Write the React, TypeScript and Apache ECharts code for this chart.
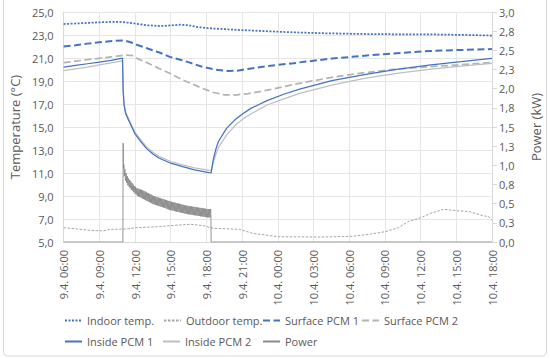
import React, { useEffect, useRef } from "react";
import * as echarts from "echarts";

// x axis: hours since 9.4. 06:00
const xTickLabels = [
  "9.4. 06:00", "9.4. 09:00", "9.4. 12:00", "9.4. 15:00", "9.4. 18:00", "9.4. 21:00",
  "10.4. 00:00", "10.4. 03:00", "10.4. 06:00", "10.4. 09:00", "10.4. 12:00", "10.4. 15:00", "10.4. 18:00",
];
const rightTickLabels = ["0,0", "0,3", "0,5", "0,8", "1,0", "1,3", "1,5", "1,8", "2,0", "2,3", "2,5", "2,8", "3,0"];

const indoorTemp = [
  [0, 23.95], [1, 24.0], [2, 24.05], [3, 24.1], [4.3, 24.15], [5, 24.12], [6, 24.0], [7, 23.85],
  [8.1, 23.78], [9, 23.83], [9.8, 23.9], [10.5, 23.85], [11.3, 23.68], [12.5, 23.57], [14.5, 23.45],
  [17, 23.33], [19.3, 23.23], [22, 23.15], [25, 23.09], [28, 23.06], [31, 23.05], [34, 23.0], [36, 22.95],
];
const outdoorTemp = [
  [0, 6.24], [1.16, 6.13], [2.2, 6.02], [3.33, 5.96], [3.88, 6.1], [5.25, 6.13], [6.06, 6.24], [7.97, 6.33],
  [9.33, 6.45], [10.69, 6.54], [11.78, 6.42], [12.6, 6.19], [14.78, 6.1], [15.87, 5.76], [18.05, 5.46],
  [21.59, 5.43], [24.31, 5.5], [25.68, 5.67], [27.03, 5.9], [28.13, 6.24], [28.95, 6.77], [30.03, 7.11],
  [30.85, 7.5], [31.94, 7.84], [33.03, 7.72], [34.12, 7.64], [35.21, 7.29], [35.75, 7.2], [36, 6.9],
];
const surfacePcm1 = [
  [0, 22.0], [1, 22.1], [2, 22.25], [3.47, 22.42], [4.3, 22.5], [5.1, 22.52], [5.7, 22.35], [6.2, 22.13],
  [7, 21.85], [8.1, 21.46], [8.92, 21.1], [9.8, 20.85], [10.6, 20.6], [11.65, 20.24], [12.7, 20.0],
  [13.8, 19.87], [14.6, 19.9], [15.5, 20.05], [17.1, 20.3], [19.3, 20.54], [19.83, 20.62], [22.54, 20.95],
  [25.27, 21.2], [28, 21.41], [30.7, 21.6], [33.4, 21.7], [36, 21.78],
];
const surfacePcm2 = [
  [0, 20.6], [2, 20.85], [4, 21.1], [5.3, 21.26], [5.8, 21.2], [6.2, 20.95], [7, 20.6], [8.0, 20.1],
  [8.92, 19.67], [10, 19.1], [11.65, 18.37], [12.6, 18.0], [13.5, 17.8], [14.4, 17.78], [15.5, 17.9],
  [17.1, 18.2], [19.83, 18.8], [22.54, 19.32], [25.27, 19.72], [28, 20.04], [30.7, 20.24], [33.4, 20.42], [36, 20.6],
];
const insidePcm1 = [
  [0, 20.2], [1, 20.35], [2, 20.5], [3, 20.65], [4, 20.8], [4.95, 20.98], [5.0, 18.2], [5.08, 16.9],
  [5.2, 16.2], [5.5, 15.5], [6.0, 14.4], [6.5, 13.7], [7.0, 13.1], [7.5, 12.65], [8.0, 12.3], [9.0, 11.85],
  [10.0, 11.55], [11.0, 11.28], [12.0, 11.08], [12.4, 11.0], [12.5, 11.7], [12.6, 12.28], [12.8, 13.1],
  [13.0, 13.72], [13.69, 14.88], [14.37, 15.6], [15.0, 16.1], [15.73, 16.62], [17.1, 17.29], [18.5, 17.85],
  [19.83, 18.3], [22.54, 19.03], [25.27, 19.55], [28, 20.01], [30.7, 20.39], [33.4, 20.68], [36, 20.97],
];
const insidePcm2 = [
  [0, 19.9], [1, 20.05], [2, 20.2], [3, 20.4], [4, 20.57], [4.95, 20.75], [5.0, 18.3], [5.08, 17.0],
  [5.2, 16.35], [5.5, 15.65], [6.0, 14.55], [6.5, 13.85], [7.0, 13.25], [7.5, 12.8], [8.0, 12.45], [9.0, 12.0],
  [10.0, 11.7], [11.0, 11.45], [12.0, 11.27], [12.4, 11.2], [12.5, 11.6], [12.6, 12.0], [12.8, 12.65],
  [13.0, 13.2], [13.69, 14.3], [14.37, 15.1], [15.0, 15.65], [15.73, 16.13], [17.1, 16.91], [18.5, 17.45],
  [19.83, 17.93], [22.54, 18.65], [25.27, 19.23], [28, 19.67], [30.7, 20.01], [33.4, 20.3], [36, 20.54],
];
const power = [
  [0, 0], [4.98, 0], [5.0, 1.29], [5.03, 0.96], [5.07, 1.01], [5.1, 0.86], [5.15, 0.95], [5.2, 0.8],
  [5.25, 0.9], [5.3, 0.77], [5.35, 0.86], [5.4, 0.74], [5.45, 0.83], [5.5, 0.72], [5.55, 0.81], [5.6, 0.7],
  [5.65, 0.79], [5.7, 0.68], [5.75, 0.77], [5.8, 0.67], [5.85, 0.75], [5.9, 0.65], [5.95, 0.73], [6.0, 0.63],
  [6.05, 0.72], [6.1, 0.62], [6.15, 0.7], [6.2, 0.6], [6.25, 0.7], [6.3, 0.595], [6.35, 0.69], [6.4, 0.585],
  [6.45, 0.685], [6.5, 0.58], [6.55, 0.68], [6.6, 0.57], [6.65, 0.675], [6.7, 0.56], [6.75, 0.665], [6.8, 0.555],
  [6.85, 0.66], [6.9, 0.545], [6.95, 0.65], [7.0, 0.535], [7.05, 0.64], [7.1, 0.53], [7.15, 0.635], [7.2, 0.52],
  [7.25, 0.625], [7.3, 0.515], [7.35, 0.62], [7.4, 0.505], [7.45, 0.61], [7.5, 0.495], [7.55, 0.6], [7.6, 0.49],
  [7.65, 0.595], [7.7, 0.485], [7.75, 0.59], [7.8, 0.48], [7.85, 0.585], [7.9, 0.475], [7.95, 0.58], [8.0, 0.47],
  [8.05, 0.575], [8.1, 0.465], [8.15, 0.57], [8.2, 0.46], [8.25, 0.565], [8.3, 0.455], [8.35, 0.56], [8.4, 0.45],
  [8.45, 0.555], [8.5, 0.445], [8.55, 0.55], [8.6, 0.44], [8.65, 0.545], [8.7, 0.43], [8.75, 0.54], [8.8, 0.425],
  [8.85, 0.535], [8.9, 0.42], [8.95, 0.53], [9.0, 0.415], [9.05, 0.525], [9.1, 0.41], [9.15, 0.52], [9.2, 0.41],
  [9.25, 0.515], [9.3, 0.405], [9.35, 0.515], [9.4, 0.4], [9.45, 0.51], [9.5, 0.395], [9.55, 0.505], [9.6, 0.395],
  [9.65, 0.5], [9.7, 0.39], [9.75, 0.5], [9.8, 0.385], [9.85, 0.495], [9.9, 0.38], [9.95, 0.49], [10.0, 0.38],
  [10.05, 0.485], [10.1, 0.375], [10.15, 0.48], [10.2, 0.37], [10.25, 0.475], [10.3, 0.365], [10.35, 0.475], [10.4, 0.365],
  [10.45, 0.47], [10.5, 0.36], [10.55, 0.47], [10.6, 0.36], [10.65, 0.465], [10.7, 0.355], [10.75, 0.465], [10.8, 0.355],
  [10.85, 0.46], [10.9, 0.35], [10.95, 0.46], [11.0, 0.35], [11.05, 0.455], [11.1, 0.345], [11.15, 0.455], [11.2, 0.345],
  [11.25, 0.45], [11.3, 0.34], [11.35, 0.45], [11.4, 0.34], [11.45, 0.445], [11.5, 0.335], [11.55, 0.445], [11.6, 0.335],
  [11.65, 0.44], [11.7, 0.33], [11.75, 0.44], [11.8, 0.33], [11.85, 0.435], [11.9, 0.325], [11.95, 0.435], [12.0, 0.325],
  [12.05, 0.43], [12.1, 0.32], [12.15, 0.43], [12.2, 0.32], [12.25, 0.43], [12.3, 0.32], [12.35, 0.43], [12.38, 0.33],
  [12.4, 0], [36, 0],
];

const FONT = "Open Sans";
const TXT = "#595959";
const BLUE = "#4472C4";

export default function App() {
  const ref = useRef<HTMLDivElement>(null);
  useEffect(() => {
    if (!ref.current) return;
    const chart = echarts.init(ref.current, undefined, { renderer: "svg" });
    const legendItems = [
      { name: "Indoor temp.", left: 64, top: 315 },
      { name: "Outdoor temp.", left: 163, top: 315 },
      { name: "Surface PCM 1", left: 262, top: 315 },
      { name: "Surface PCM 2", left: 361, top: 315 },
      { name: "Inside PCM 1", left: 64, top: 336 },
      { name: "Inside PCM 2", left: 162, top: 336 },
      { name: "Power", left: 262, top: 336 },
    ];
    const mk = (name: string, data: number[][], color: string, width: number, type: any, yIdx = 0, z = 2) => ({
      name, type: "line", data, yAxisIndex: yIdx, symbol: "none", showSymbol: false, z,
      lineStyle: { color, width, type }, itemStyle: { color },
    });
    chart.setOption({
      animation: false,
      textStyle: { fontFamily: FONT },
      grid: { left: 57.5, right: 52, top: 12, bottom: 116, containLabel: false },
      graphic: [
        { type: "rect", shape: { x: 3.5, y: -10, width: 543, height: 366, r: 4 }, style: { fill: "none", stroke: "#D9D9D9", lineWidth: 1 }, silent: true, z: -1 },
      ],
      legend: legendItems.map((l) => ({
        data: [l.name], left: l.left, top: l.top, padding: 0, itemWidth: 17, itemHeight: 10, itemGap: 0,
        itemStyle: { opacity: 0 },
        textStyle: { fontFamily: FONT, fontSize: 11, color: TXT },
      })),
      xAxis: {
        type: "value", min: 0, max: 36, interval: 3,
        axisLine: { show: true, lineStyle: { color: "#D9D9D9" } },
        axisTick: { show: false },
        splitLine: { show: true, lineStyle: { color: "#E6E6E6" } },
        axisLabel: {
          rotate: 90, margin: 8, fontSize: 11, color: TXT, fontFamily: FONT,
          formatter: (v: number) => xTickLabels[Math.round(v / 3)] ?? "",
        },
      },
      yAxis: [
        {
          type: "value", min: 5, max: 25, interval: 2,
          name: "Temperature (°C)", nameLocation: "middle", nameGap: 42, nameRotate: 90,
          nameTextStyle: { fontSize: 13, color: TXT, fontFamily: FONT },
          axisLine: { show: true, lineStyle: { color: "#D9D9D9" } },
          axisTick: { show: false },
          splitLine: { show: true, lineStyle: { color: "#E6E6E6" } },
          axisLabel: { fontSize: 11, color: TXT, fontFamily: FONT, margin: 10, formatter: (v: number) => v.toFixed(1).replace(".", ",") },
        },
        {
          type: "value", min: 0, max: 3, interval: 0.25, position: "right",
          name: "Power (kW)", nameLocation: "middle", nameGap: 37, nameRotate: 90,
          nameTextStyle: { fontSize: 13, color: TXT, fontFamily: FONT },
          axisLine: { show: true, lineStyle: { color: "#D9D9D9" } },
          axisTick: { show: true, length: 5, lineStyle: { color: "#D9D9D9" } },
          splitLine: { show: false },
          axisLabel: { fontSize: 11, color: TXT, fontFamily: FONT, margin: 7, formatter: (v: number) => rightTickLabels[Math.round(v / 0.25)] ?? "" },
        },
      ],
      series: [
        mk("Indoor temp.", indoorTemp, BLUE, 1.75, [2, 1.5]),
        mk("Outdoor temp.", outdoorTemp, "#A5A5A5", 1, [2.5, 1.5]),
        mk("Surface PCM 1", surfacePcm1, BLUE, 2, [7, 3.5]),
        mk("Surface PCM 2", surfacePcm2, "#B4B4B4", 1.75, [7, 3.5]),
        mk("Inside PCM 1", insidePcm1, BLUE, 1.25, "solid", 0, 3),
        mk("Inside PCM 2", insidePcm2, "#BFBFBF", 1.25, "solid"),
        mk("Power", power, "#8A8A8A", 0.9, "solid", 1, 4),
      ],
    });
    return () => chart.dispose();
  }, []);
  return <div ref={ref} style={{ position: "fixed", left: 0, top: 0, width: 550, height: 358, background: "#fff" }} />;
}
